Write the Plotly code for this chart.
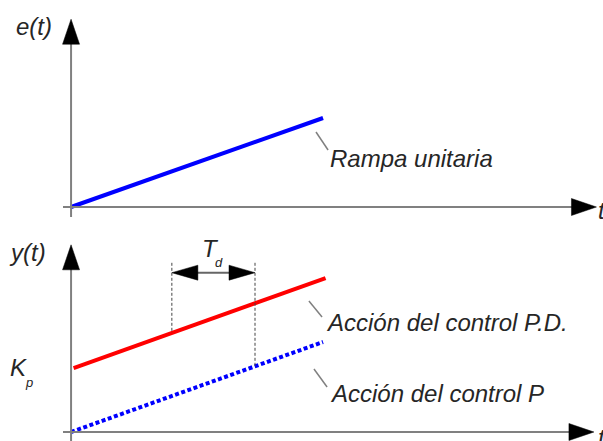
import numpy as np
import plotly.graph_objects as go

# ---- data ----
t_ramp = [0, 10]          # unit ramp input e(t)
e_ramp = [0, 10]
t_pd = [0.1, 10.1]        # P.D. control action
y_pd = [7.1, 17.1]
t_p = [0, 10]             # P control action
y_p = [0, 10]
td_start = 4.0            # derivative time marker
td_end = 7.3
kp_level = 7.1

labels_top = ["e(t)", "Rampa unitaria"]
labels_bottom = ["y(t)", "Acción del control P.D.", "Acción del control P"]

FONT = "Liberation Sans, Arial, sans-serif"
TXT = "#262626"
AX = "#808080"

fig = go.Figure()
fig.add_trace(go.Scatter(x=t_ramp, y=e_ramp, mode="lines", xaxis="x", yaxis="y",
                         line=dict(color="#0000FF", width=4), hoverinfo="skip"))
fig.add_trace(go.Scatter(x=t_pd, y=y_pd, mode="lines", xaxis="x2", yaxis="y2",
                         line=dict(color="#FF0000", width=4), hoverinfo="skip"))
fig.add_trace(go.Scatter(x=t_p, y=y_p, mode="lines", xaxis="x2", yaxis="y2",
                         line=dict(color="#0000FF", width=4, dash="4px,2.5px"), hoverinfo="skip"))

shapes = []
def line(x0, y0, x1, y1, ax, color=AX, width=2, dash=None):
    d = dict(type="line", xref="x" if ax == 1 else "x2", yref="y" if ax == 1 else "y2",
             x0=x0, y0=y0, x1=x1, y1=y1, line=dict(color=color, width=width))
    if dash:
        d["line"]["dash"] = dash
    shapes.append(d)

def tri(xa, ya, path, ax):
    shapes.append(dict(type="path", xref="x" if ax == 1 else "x2", yref="y" if ax == 1 else "y2",
                       xsizemode="pixel", ysizemode="pixel", xanchor=xa, yanchor=ya,
                       path=path, fillcolor="black", line=dict(color="black", width=0.5)))

RIGHT = "M 0 0 L -25 8.5 L -25 -8.5 Z"
UP = "M 0 0 L -8.5 -25 L 8.5 -25 Z"

# top axes
line(-0.32, 0, 19.9, 0, 1)
line(0, -1.12, 0, 18.4, 1)
tri(20.85, 0, RIGHT, 1)
tri(0, 21.1, UP, 1)
# bottom axes
line(-0.32, 0, 19.9, 0, 2)
line(0, -1.2, 0, 18.5, 2)
tri(20.75, 0, RIGHT, 2)
tri(0, 20.8, UP, 2)

# Td markers
y_top_dash = 18.8
line(td_start, y_top_dash, td_start, float(np.interp(td_start, t_pd, y_pd)), 2, color="#444444", width=1, dash="3px,2px")
line(td_end, y_top_dash, td_end, float(np.interp(td_end, t_p, y_p)), 2, color="#444444", width=1, dash="3px,2px")
y_arr = 17.7
line(td_start + 0.5, y_arr, td_end - 0.5, y_arr, 2, color="#666666", width=2)
tri(td_start, y_arr, "M 0 0 L 26 7.5 L 26 -7.5 Z", 2)
tri(td_end, y_arr, "M 0 0 L -26 7.5 L -26 -7.5 Z", 2)

# leader lines
line(9.72, 8.43, 10.2, 6.4, 1, width=1.5)
line(9.44, 14.56, 9.96, 12.78, 2, width=1.5)
line(9.64, 7.0, 10.16, 5.0, 2, width=1.5)

ann = []
def text(s, x, y, ax, size=24, xanchor="left"):
    ann.append(dict(text=s, x=x, y=y, xref="x" if ax == 1 else "x2", yref="y" if ax == 1 else "y2",
                    showarrow=False, xanchor=xanchor, yanchor="middle",
                    font=dict(family=FONT, size=size, color=TXT, style="italic")))

text(labels_top[0], -2.25, 20.3, 1)
text(labels_top[1], 10.18, 5.5, 1)
text("t", 20.85, -0.4, 1)
text(labels_bottom[0], -2.55, 20.0, 2)
text(labels_bottom[1], 10.02, 12.2, 2)
text(labels_bottom[2], 10.18, 4.33, 2)
text("t", 20.85, -0.6, 2)
text("K", -2.5, kp_level + 0.1, 2)
text("p", -1.9, 5.5, 2, size=13)
text("T", 5.1, 20.35, 2)
text("d", 5.62, 18.85, 2, size=13)

fig.update_layout(
    width=603, height=441,
    margin=dict(l=0, r=0, t=0, b=0),
    paper_bgcolor="white", plot_bgcolor="white",
    showlegend=False,
    shapes=shapes, annotations=ann,
    xaxis=dict(range=[-2.82, 21.11], domain=[0, 1], visible=False, fixedrange=True),
    yaxis=dict(range=[-1.517, 23.26], domain=[0.5, 1], visible=False, fixedrange=True),
    xaxis2=dict(range=[-2.82, 21.11], domain=[0, 1], visible=False, anchor="y2", fixedrange=True),
    yaxis2=dict(range=[-1.0, 23.5], domain=[0, 0.5], visible=False, anchor="x2", fixedrange=True),
)
fig.write_html("out.html", config={"displayModeBar": False},
               post_script="document.body.style.margin='0px';document.body.style.overflow='hidden';")
